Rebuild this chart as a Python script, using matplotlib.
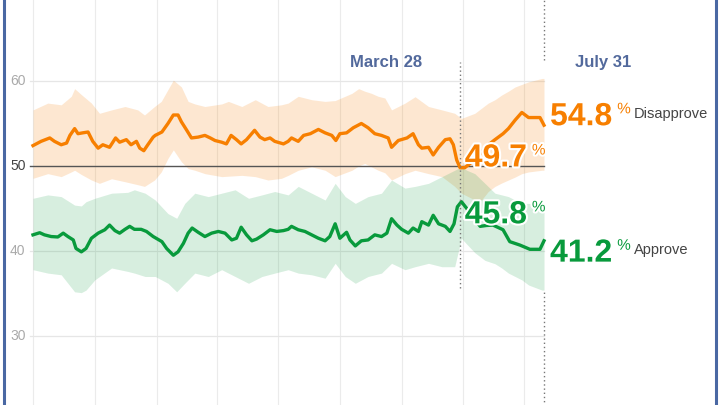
import matplotlib
matplotlib.use("Agg")
import matplotlib.pyplot as plt
import matplotlib.patheffects as pe
from matplotlib.lines import Line2D
import numpy as np
import pandas as pd

plt.rcParams['font.family'] = ['Liberation Sans', 'DejaVu Sans']

start = pd.Timestamp('2018-07-01')

# days since 2018-07-01, average values
dis_day = [0, 12, 25, 32, 42, 50, 55, 62, 67, 74, 82, 89, 97, 104, 114, 123, 129, 139, 146, 154,
           159, 165, 171, 179, 182, 192, 201, 209, 216, 221, 229, 236, 246, 256, 264, 271, 281,
           288, 295, 303, 310, 318, 330, 338, 345, 353, 360, 373, 380, 385, 395, 403, 413, 425,
           435, 445, 451, 457, 467, 477, 489, 499, 509, 519, 529, 534, 544, 557, 566, 574, 579,
           589, 596, 604, 614, 621, 626, 631, 636, 643, 651, 663, 675, 688, 700, 708, 718, 728,
           738, 748, 755, 761]
disapprove = [52.4, 52.9, 53.3, 52.9, 52.5, 52.7, 53.6, 54.4, 53.8, 53.9, 54.0, 52.9, 52.1, 52.5,
              52.2, 53.3, 52.8, 53.1, 52.5, 52.9, 52.1, 51.8, 52.5, 53.4, 53.6, 54.0, 55.0, 56.0,
              56.0, 55.2, 54.2, 53.3, 53.4, 53.6, 53.3, 53.0, 52.8, 52.6, 53.6, 53.1, 52.6, 53.1,
              54.2, 53.4, 53.1, 53.3, 52.9, 52.6, 52.9, 53.3, 52.9, 53.6, 53.8, 54.3, 53.9, 53.6,
              53.0, 53.8, 53.9, 54.5, 55.0, 54.5, 53.8, 53.6, 53.3, 52.2, 53.0, 53.3, 53.8, 52.5,
              52.1, 52.2, 51.3, 52.2, 53.1, 53.2, 52.5, 50.7, 49.8, 49.8, 50.3, 51.2, 52.3, 53.1,
              53.8, 54.4, 55.4, 56.3, 55.7, 55.7, 55.7, 54.8]

app_day = [0, 10, 17, 27, 37, 45, 52, 60, 64, 72, 79, 87, 97, 107, 114, 122, 129, 137, 144, 151,
           161, 169, 179, 192, 199, 209, 216, 224, 231, 237, 246, 256, 266, 276, 286, 296, 303,
           310, 318, 326, 333, 343, 353, 363, 373, 380, 385, 395, 405, 415, 425, 435, 442, 450,
           457, 467, 472, 480, 489, 499, 509, 519, 527, 534, 542, 549, 559, 566, 574, 579, 589,
           596, 604, 614, 621, 627, 632, 638, 646, 657, 666, 675, 685, 700, 710, 725, 740, 755,
           761]
approve = [41.9, 42.15, 41.9, 41.7, 41.65, 42.1, 41.7, 41.3, 40.3, 39.9, 40.3, 41.5, 42.1, 42.5,
           43.05, 42.4, 42.1, 42.55, 42.9, 42.55, 42.55, 42.3, 41.7, 41.1, 40.3, 39.5, 39.9, 40.9,
           42.1, 42.7, 42.2, 41.7, 42.1, 42.3, 42.1, 41.3, 41.5, 42.8, 41.9, 41.2, 41.4, 41.9,
           42.5, 42.3, 42.4, 42.55, 42.9, 42.5, 42.3, 41.9, 41.5, 41.2, 41.7, 43.2, 41.5, 42.2,
           41.3, 40.6, 41.2, 41.3, 41.9, 41.7, 42.1, 43.8, 43.05, 42.55, 42.1, 42.7, 42.3, 43.45,
           43.05, 44.2, 43.2, 42.9, 42.3, 43.2, 45.2, 45.8, 45.0, 43.8, 42.9, 43.0, 43.05, 42.5,
           41.1, 40.7, 40.2, 40.2, 41.2]

# uncertainty bands
dis_band_day = [0, 22, 42, 57, 62, 72, 87, 99, 117, 137, 156, 166, 181, 191, 201, 209, 221, 231,
                241, 256, 281, 291, 311, 331, 350, 370, 380, 395, 415, 435, 450, 475, 485, 494,
                504, 514, 524, 534, 554, 569, 589, 609, 628, 638, 658, 668, 678, 688, 698, 708,
                718, 728, 738, 758, 761]
dis_hi = [56.6, 57.4, 57.2, 58.2, 59.1, 58.4, 57.4, 56.2, 56.6, 57.0, 56.6, 56.0, 57.0, 57.6,
          59.0, 60.1, 59.3, 57.6, 57.3, 57.0, 57.3, 57.6, 57.0, 57.8, 57.0, 57.2, 57.4, 58.2,
          57.8, 57.6, 57.7, 58.55, 59.1, 58.8, 58.55, 58.2, 58.0, 56.6, 57.4, 58.15, 57.0, 56.6,
          56.2, 55.6, 56.2, 56.8, 57.4, 57.8, 58.35, 58.8, 59.3, 59.6, 59.9, 60.3, 60.3]
dis_lo = [48.55, 49.1, 48.75, 49.3, 49.5, 49.0, 48.35, 47.96, 48.5, 48.15, 47.8, 47.6, 48.35,
          49.3, 50.9, 51.9, 50.5, 49.7, 49.5, 49.1, 48.75, 48.8, 48.9, 48.75, 48.35, 48.55, 48.9,
          49.5, 49.9, 49.5, 48.75, 49.5, 50.0, 50.3, 49.9, 49.5, 49.2, 48.35, 49.1, 49.5, 49.1,
          48.75, 47.6, 46.8, 46.0, 46.0, 47.0, 47.6, 48.0, 48.35, 48.7, 49.1, 49.3, 49.5, 49.5]

app_band_day = [0, 22, 42, 62, 72, 79, 92, 117, 141, 151, 167, 182, 201, 214, 226, 241, 261, 281,
                301, 321, 341, 360, 380, 395, 415, 435, 450, 465, 480, 499, 519, 534, 554, 569,
                589, 609, 628, 638, 646, 658, 673, 688, 698, 708, 718, 728, 738, 758, 761]
app_hi = [46.2, 46.6, 46.4, 45.4, 45.3, 45.8, 46.2, 46.8, 46.9, 47.2, 46.8, 46.0, 44.4, 43.85,
          45.6, 46.8, 46.4, 46.8, 47.2, 46.2, 46.6, 47.0, 46.6, 47.6, 46.8, 46.0, 47.96, 46.4,
          45.6, 46.4, 46.8, 48.35, 47.4, 47.6, 47.96, 48.75, 49.5, 49.9, 49.5, 49.1, 47.96, 46.8,
          46.6, 46.4, 46.0, 45.6, 45.6, 45.6, 45.6]
app_lo = [37.8, 37.4, 37.2, 35.2, 35.1, 35.4, 36.6, 38.0, 37.6, 37.4, 37.0, 37.0, 36.2, 35.2,
          36.2, 37.4, 37.0, 37.8, 37.0, 36.2, 37.0, 37.4, 37.8, 37.4, 37.2, 36.8, 38.55, 37.0,
          36.2, 37.0, 37.4, 38.55, 37.8, 38.15, 38.55, 38.15, 38.15, 41.5, 40.8, 39.8, 38.9,
          38.5, 38.0, 37.4, 37.0, 36.6, 36.0, 35.4, 35.4]

grid_dates = ['2018-07-01', '2018-10-01', '2019-01-01', '2019-04-01', '2019-07-01',
              '2019-10-01', '2020-01-01', '2020-04-01', '2020-07-01']
y_ticks = [60, 50, 40, 30]

ORANGE = '#f77f00'
GREEN = '#089a3c'
BLUE_TXT = '#52699c'


def to_date(days):
    return start + pd.to_timedelta(np.asarray(days, dtype=float), unit='D')


fig = plt.figure(figsize=(7.2, 4.05), dpi=100)
ax = fig.add_axes([0, 0, 1, 1])
ax.set_axis_off()

# pixel layout: day 0 at x=33px, 0.6715 px per day; 50 at y=166px, 8.5 px per point
ppd = 0.6715
ax.set_xlim(to_date(-33 / ppd), to_date(761 + (720 - 544) / ppd))
ax.set_ylim(50 - (405 - 166) / 8.5, 50 + 166 / 8.5)

for d in grid_dates:
    ax.axvline(pd.Timestamp(d), color='#ebebeb', lw=0.8, zorder=0)

x_left = to_date(-4.5)
x_end = to_date(761)
for v in y_ticks:
    if v == 50:
        continue
    ax.plot([x_left, x_end], [v, v], color='#e6e6e6', lw=0.9, zorder=0)
    ax.text(to_date(-11), v, str(v), ha='right', va='center', fontsize=10, color='#aaaaaa')
ax.text(to_date(-11), 50, '50', ha='right', va='center', fontsize=10, color='#444444')

ax.fill_between(to_date(dis_band_day), dis_lo, dis_hi, color=ORANGE, alpha=0.18, lw=0, zorder=1)
ax.fill_between(to_date(app_band_day), app_lo, app_hi, color=GREEN, alpha=0.16, lw=0, zorder=1)

ax.plot([x_left, x_end], [50, 50], color='#555555', lw=1.0, zorder=2)

ax.plot(to_date(dis_day), disapprove, color=ORANGE, lw=2.4, zorder=3)
ax.plot(to_date(app_day), approve, color=GREEN, lw=2.4, zorder=3)

# event markers
mar28 = pd.Timestamp('2020-03-28')
jul31 = pd.Timestamp('2020-07-31')
ax.plot([mar28, mar28], [35.6, 62.2], color='#777777', lw=1, ls=(0, (1, 2)), zorder=4)
ax.plot([jul31, jul31], [62.5, 70], color='#777777', lw=1, ls=(0, (1, 2)), zorder=4)
ax.plot([jul31, jul31], [21, 35.4], color='#777777', lw=1, ls=(0, (1, 2)), zorder=4)

ax.text(to_date(636 - 110), 61.6, 'March 28', ha='center', va='baseline', fontsize=12,
        fontweight='bold', color=BLUE_TXT)
ax.text(to_date(761 + 88), 61.6, 'July 31', ha='center', va='baseline', fontsize=12,
        fontweight='bold', color=BLUE_TXT)

halo = [pe.withStroke(linewidth=3, foreground='white')]


def value_label(day, base, num, color, name=None):
    t = ax.text(to_date(day), base, num, ha='left', va='baseline', fontsize=23,
                fontweight='bold', color=color, zorder=6)
    t.set_path_effects(halo)
    px = to_date(day + 100)
    p = ax.text(px, base + 1.4, '%', ha='left', va='baseline', fontsize=11, color=color, zorder=6)
    p.set_path_effects(halo)
    if name:
        ax.text(to_date(day + 125), base + 0.9, name, ha='left', va='baseline', fontsize=10.5,
                color='#444444', zorder=6)


value_label(770, 54.8, '54.8', ORANGE, 'Disapprove')
value_label(643, 49.95, '49.7', ORANGE)
value_label(643, 43.26, '45.8', GREEN)
value_label(770, 38.75, '41.2', GREEN, 'Approve')

# frame edges
for fx in (3.5 / 720, 716 / 720):
    fig.add_artist(Line2D([fx, fx], [0, 1], transform=fig.transFigure, color='#4a68a3', lw=2.2))

fig.savefig('out.png', dpi=100)
